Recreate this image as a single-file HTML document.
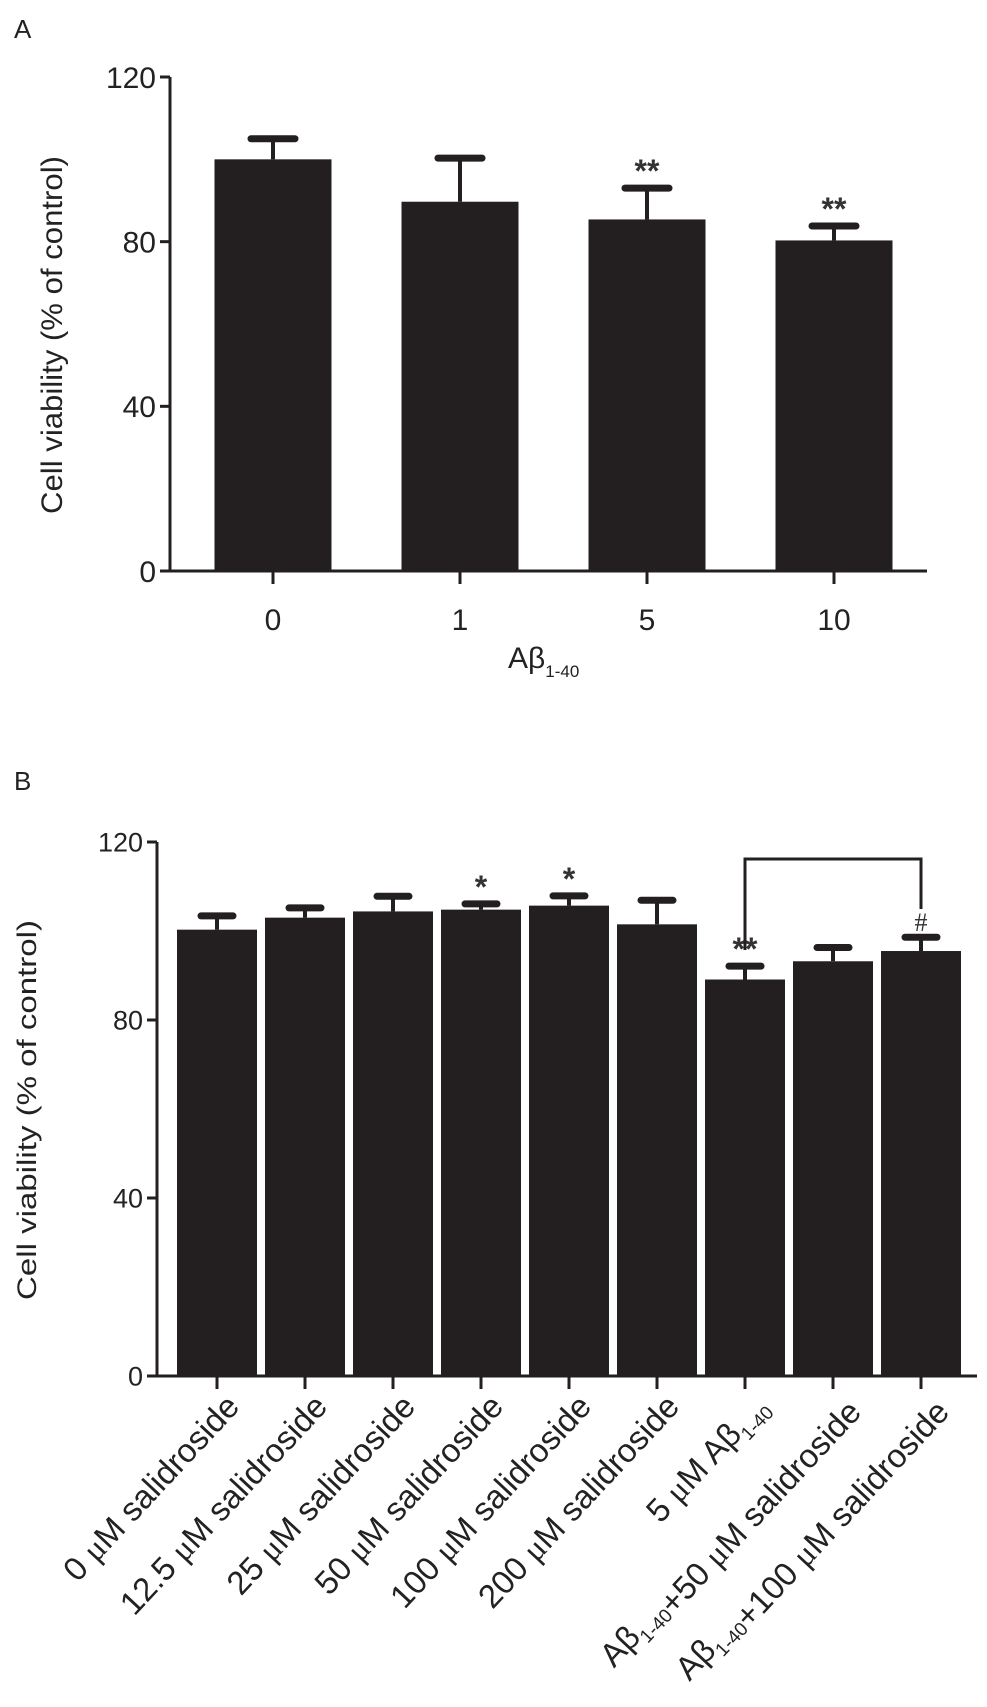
<!DOCTYPE html>
<html><head><meta charset="utf-8"><style>
body{margin:0;background:#fff;}
svg{display:block;font-family:"Liberation Sans",Arial,sans-serif;}
</style></head><body>
<svg id="fig" width="987" height="1707" viewBox="0 0 987 1707" xmlns="http://www.w3.org/2000/svg">
<text x="14" y="38" font-size="26" fill="#222">A</text>
<text x="14" y="790" font-size="26" fill="#222">B</text>
<g id="ga"></g>
<g id="gb"></g>
</svg>
<script>
const catsA = ["0","1","5","10"];
const valsA = [100, 89.7, 85.4, 80.3];
const errA = [105, 100.3, 93, 83.8];
const sigA = ["", "", "**", "**"];
const ticksA = [0,40,80,120];

const catsB = ["0 μM salidroside","12.5 μM salidroside","25 μM salidroside","50 μM salidroside","100 μM salidroside","200 μM salidroside","5 μM Aβ","Aβ+50 μM salidroside","Aβ+100 μM salidroside"];
const valsB = [100.3, 103, 104.4, 104.8, 105.7, 101.5, 89.1, 93.2, 95.5];
const errB = [103.4, 105.2, 107.8, 106.1, 107.9, 106.9, 92.1, 96.3, 98.6];
const sigB = ["", "", "", "*", "*", "", "**", "", "#"];
const ticksB = [0,40,80,120];

const NS="http://www.w3.org/2000/svg";
function mk(p,t,a){const e=document.createElementNS(NS,t);for(const k in a)e.setAttribute(k,a[k]);p.appendChild(e);return e;}
const C="#231f20";

function chart(g,o,cats,vals,errs,sigs,ticks){
  const y=v=>o.y0-v*(o.y0-o.y120)/120;
  const x=i=>o.x0c+i*o.step;
  let e=mk(g,'line',{x1:o.ax,y1:o.y120,x2:o.ax,y2:o.y0,stroke:C,'stroke-width':3});
  
  e=mk(g,'line',{x1:o.ax-10,y1:o.y0,x2:o.axEnd,y2:o.y0,stroke:C,'stroke-width':3});
  
  ticks.forEach(t=>{
    mk(g,'line',{x1:o.ax-10,y1:y(t),x2:o.ax,y2:y(t),stroke:C,'stroke-width':3});
    const tx=mk(g,'text',{x:o.ax-14,y:y(t)+o.fs*0.36,'text-anchor':'end','font-size':o.fs,fill:'#222'});
    tx.textContent=t;
    
    
  });
  cats.forEach((c,i)=>{
    const cx=x(i);
    const b=mk(g,'rect',{x:cx-o.bw/2,y:y(vals[i]),width:o.bw,height:o.y0-y(vals[i]),fill:C});
    
    
    mk(g,'line',{x1:cx,y1:y(vals[i]),x2:cx,y2:y(errs[i]),stroke:C,'stroke-width':4});
    const cap=mk(g,'line',{x1:cx-o.cap,y1:y(errs[i]),x2:cx+o.cap,y2:y(errs[i]),stroke:C,'stroke-width':7,'stroke-linecap':'round'});
    
    
    mk(g,'line',{x1:cx,y1:o.y0,x2:cx,y2:o.y0+13,stroke:C,'stroke-width':3});
    if(sigs[i]){
      const isH=sigs[i]=='#';
      const s=mk(g,'text',{x:cx,y:y(errs[i])-o.sigOff,'text-anchor':'middle','font-size':isH?26:32,'font-weight':isH?'normal':'bold',fill:'#333','font-family':isH?'Liberation Serif, serif':'Liberation Sans, sans-serif'});
      s.textContent=sigs[i];
      
      
    }
  });
  return {x,y};
}

const ga=document.getElementById('ga');
const A=chart(ga,{ax:170,axEnd:927,y0:571,y120:77,x0c:273,step:187,bw:117,cap:22,fs:30,sigOff:6},catsA,valsA,errA,sigA,ticksA);
catsA.forEach((c,i)=>{
  const t=mk(ga,'text',{x:A.x(i),y:630,'text-anchor':'middle','font-size':30,fill:'#222'});
  t.textContent=c;
  
  
});
let t=mk(ga,'text',{x:508,y:668,'font-size':30,fill:'#222'});
t.innerHTML='Aβ<tspan font-size="17" dy="9">1-40</tspan>';


t=mk(ga,'text',{x:0,y:0,'text-anchor':'middle','font-size':30,fill:'#222',textLength:358,lengthAdjust:'spacingAndGlyphs',transform:'translate(62,335) rotate(-90)'});
t.textContent='Cell viability (% of control)';



const gb=document.getElementById('gb');
const B=chart(gb,{ax:157,axEnd:977,y0:1376,y120:842,x0c:217,step:88,bw:80,cap:16,fs:27,sigOff:6},catsB,valsB,errB,sigB,ticksB);
t=mk(gb,'text',{x:0,y:0,'text-anchor':'middle','font-size':27,fill:'#222',textLength:380,lengthAdjust:'spacingAndGlyphs',transform:'translate(36,1110) rotate(-90)'});
t.textContent='Cell viability (% of control)';


const bl=B.x(6), br=B.x(8);
const br1=mk(gb,'polyline',{points:`${bl},950 ${bl},859 ${br},859 ${br},909`,fill:'none',stroke:C,'stroke-width':3});


catsB.forEach((c,i)=>{
  const ax=B.x(i)+24, ay=1408;
  const l=mk(gb,'text',{x:0,y:0,'text-anchor':'end','font-size':33,fill:'#222',transform:`translate(${ax} ${ay}) rotate(-47)`});
  let h=c.replace(/μ/g,'<tspan font-family="Liberation Serif, serif">μ</tspan>');
  h=h.replace(/Aβ/g,'Aβ<tspan font-size="19" dy="8">1-40</tspan><tspan dy="-8"></tspan>');
  l.innerHTML=h;
  
  
});
</script>
</body></html>
